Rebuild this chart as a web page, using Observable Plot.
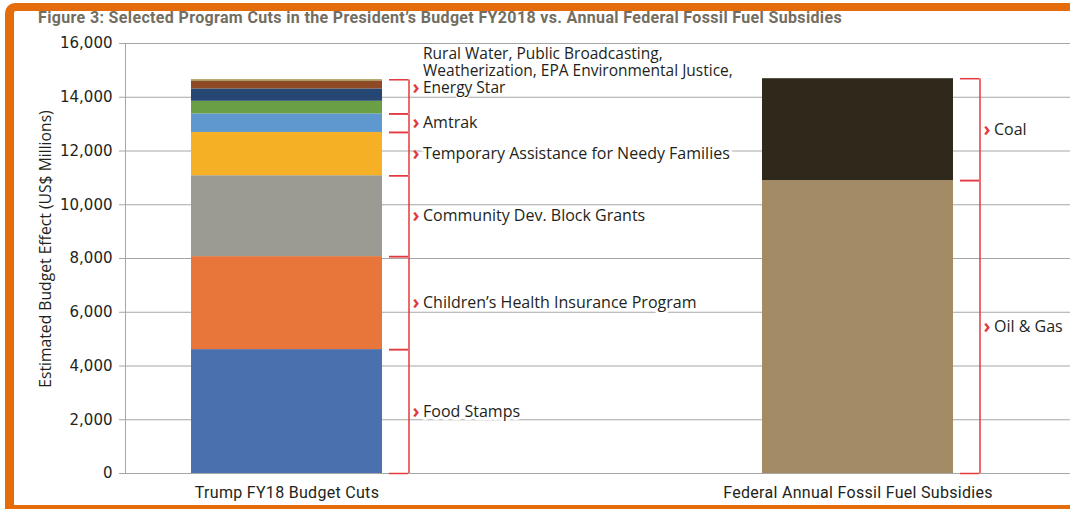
<!DOCTYPE html>
<html><head><meta charset="utf-8">
<script src="https://cdn.jsdelivr.net/npm/d3@7"></script>
<script src="https://cdn.jsdelivr.net/npm/@observablehq/plot@0.6"></script>
<style>
html,body{margin:0;padding:0;background:#fff;}
#page{position:relative;width:1070px;height:509px;overflow:hidden;background:#fff;}
#chart{position:absolute;left:0;top:0;}
#title{position:absolute;left:38px;top:8px;font:bold 16px "Roboto",sans-serif;letter-spacing:0.35px;color:#736d5f;white-space:nowrap;}
#ytitle{position:absolute;left:45px;top:249px;width:0;height:0;}
#ytitle span{position:absolute;left:0;top:0;transform:translate(-50%,-50%) rotate(-90deg);font:15.7px "Open Sans",sans-serif;color:#231f20;white-space:nowrap;}
#frame{position:absolute;left:5px;top:3px;width:1080px;height:494px;border-left:9px solid #e46c0a;border-top:8px solid #e46c0a;border-bottom:4px solid #e46c0a;border-top-left-radius:10px;pointer-events:none;}
#chart g[aria-label="x-axis tick label"] text{letter-spacing:0.3px;}
</style></head>
<body><div id="page"><div id="chart"></div><div id="ytitle"><span></span></div><div id="title">Figure 3: Selected Program Cuts in the President’s Budget FY2018 vs. Annual Federal Fossil Fuel Subsidies</div><div id="frame"></div></div>
<script>
// ---- data ----
const categories = ["Trump FY18 Budget Cuts", "Federal Annual Fossil Fuel Subsidies"];
const leftPrograms = ["Food Stamps", "Children’s Health Insurance Program", "Community Dev. Block Grants", "Temporary Assistance for Needy Families", "Amtrak", "Rural Water", "Public Broadcasting", "Weatherization", "EPA Environmental Justice", "Energy Star"];
const leftValues = [4610, 3460, 3010, 1610, 690, 470, 460, 280, 10, 50];
const leftColors = ["#4a71ad", "#e8763a", "#9c9b93", "#f6b026", "#5e98cf", "#6a9f45", "#264674", "#8d4a24", "#8d4a24", "#9a8a3a"];
const leftGroupOf = [0, 1, 2, 3, 4, 5, 5, 5, 5, 5];
const leftGroupLabels = ["Food Stamps", "Children’s Health Insurance Program", "Community Dev. Block Grants", "Temporary Assistance for Needy Families", "Amtrak", "Rural Water, Public Broadcasting,\nWeatherization, EPA Environmental Justice,\nEnergy Star"];
const rightSources = ["Oil & Gas", "Coal"];
const rightValues = [10900, 3790];
const rightColors = ["#a38b66", "#2f291c"];
const yTicks = [0, 2000, 4000, 6000, 8000, 10000, 12000, 14000, 16000];
const yTitle = "Estimated Budget Effect (US$ Millions)";

// ---- derived tables ----
const segments = [
  ...leftPrograms.map((p, i) => ({bar: categories[0], name: p, value: leftValues[i], group: leftGroupLabels[leftGroupOf[i]]})),
  ...rightSources.map((p, i) => ({bar: categories[1], name: p, value: rightValues[i], group: p}))
];
function groupsFor(bar) {
  const out = []; let cum = 0;
  for (const s of segments.filter(s => s.bar === bar)) {
    const lo = cum; cum += s.value;
    let g = out.find(o => o.label === s.group);
    if (!g) { g = {bar, label: s.group, lo, hi: cum}; out.push(g); } else g.hi = cum;
  }
  return out;
}
const groups = categories.flatMap(groupsFor).map(g => ({...g, mid: (g.lo + g.hi) / 2}));
const edges = groups.flatMap(g => [{bar: g.bar, v: g.lo}, {bar: g.bar, v: g.hi}]);
const single = groups.filter(g => !g.label.includes("\n"));
const multi = groups.filter(g => g.label.includes("\n"));

const red = "#e3383d";
const grid = "#a6a6a6";
const ink = "#231f20";
const bw = 191;

document.querySelector("#ytitle span").textContent = yTitle;

const chart = Plot.plot({
  width: 1070, height: 509,
  marginTop: 43, marginBottom: 36, marginLeft: 125, marginRight: 0,
  style: {fontFamily: '"Open Sans", sans-serif', fontSize: "15px", color: ink, background: "transparent"},
  x: {domain: categories, paddingInner: 0.6655, paddingOuter: 0.16, align: 0.3607, label: null},
  y: {domain: [0, 16000], label: null},
  color: {domain: [...leftPrograms, ...rightSources], range: [...leftColors, ...rightColors]},
  marks: [
    Plot.gridY(yTicks, {stroke: grid, strokeOpacity: 1}),
    Plot.frame({anchor: "left", stroke: grid}),
    Plot.axisY(yTicks, {tickSize: 6, tickPadding: 7, tickFormat: d3.format(","), stroke: grid, fill: ink, fontSize: 15, fontFamily: '"DejaVu Sans", sans-serif', label: null}),
    Plot.axisX({tickSize: 0, tickPadding: 13, fontSize: 16, fontFamily: 'Roboto, sans-serif', fill: ink, label: null}),
    Plot.barY(segments, {x: "bar", y: "value", fill: "name"}),
    Plot.ruleX(groups, {x: "bar", y1: "lo", y2: "hi", dx: 122, stroke: red, strokeWidth: 1.5}),
    Plot.tickY(edges, {x: "bar", y: "v", dx: 26, insetLeft: bw - 19, stroke: red, strokeWidth: 1.5}),
    Plot.text(single, {x: "bar", y: "mid", text: () => "›", dx: 129, fill: red, fontWeight: "bold", fontSize: 19}),
    Plot.text(multi, {x: "bar", y: "mid", text: () => "›", dx: 129, dy: -9, fill: red, fontWeight: "bold", fontSize: 19}),
    Plot.text(single, {x: "bar", y: "mid", text: "label", dx: 136, textAnchor: "start", fontSize: 16, fill: ink, stroke: "white", strokeWidth: 6}),
    Plot.text(multi, {x: "bar", y: "mid", text: "label", dx: 136, dy: -26, lineHeight: 1.1, textAnchor: "start", fontSize: 15.5, fill: ink, stroke: "white", strokeWidth: 3})
  ]
});
document.getElementById("chart").appendChild(chart);
</script>
</body></html>
